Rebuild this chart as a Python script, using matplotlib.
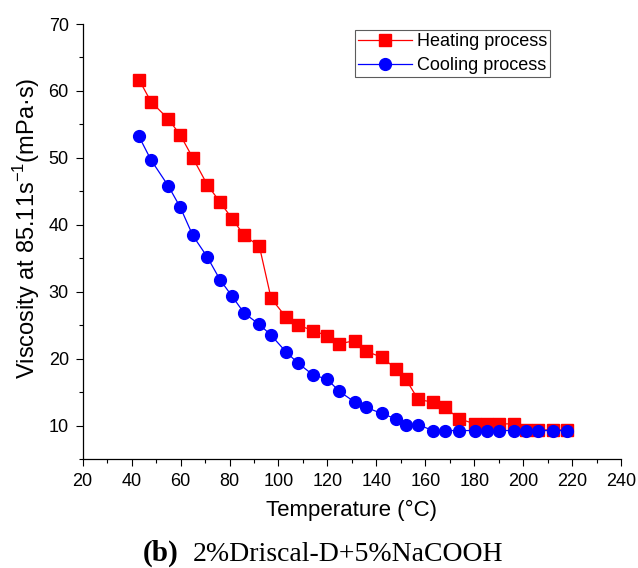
import numpy as np
import matplotlib.pyplot as plt
from matplotlib.ticker import MultipleLocator

plt.rcParams['font.family'] = ['Liberation Sans', 'DejaVu Sans']

temp = [43.0, 47.9, 55.0, 59.9, 65.0, 70.9, 76.1, 81.1, 86.0, 92.2, 97.0,
        103.1, 108.1, 114.0, 120.0, 124.9, 131.2, 135.9, 142.2, 148.0, 152.1,
        157.1, 163.0, 168.1, 173.9, 180.3, 185.1, 190.1, 196.1, 201.2, 205.9,
        212.1, 217.8]
heating = [61.7, 58.4, 55.8, 53.4, 50.0, 46.0, 43.4, 40.9, 38.4, 36.8, 29.0,
           26.2, 25.0, 24.2, 23.4, 22.2, 22.7, 21.1, 20.2, 18.5, 16.9,
           13.9, 13.5, 12.7, 11.0, 10.25, 10.25, 10.25, 10.25, 9.35, 9.35,
           9.35, 9.35]
cooling = [53.2, 49.7, 45.8, 42.6, 38.4, 35.2, 31.8, 29.3, 26.8, 25.1, 23.5,
           21.0, 19.3, 17.6, 16.9, 15.1, 13.5, 12.7, 11.8, 11.0, 10.15,
           10.15, 9.25, 9.25, 9.25, 9.25, 9.25, 9.25, 9.25, 9.25, 9.25,
           9.25, 9.25]

fig = plt.figure(figsize=(6.38, 5.68), dpi=100)
ax = fig.add_axes([0.1296, 0.1919, 0.8438, 0.7658])

ax.plot(temp, heating, color='#ff0000', marker='s', markersize=8, lw=0.9,
        label='Heating process')
ax.plot(temp, cooling, color='#0000ff', marker='o', markersize=8.5, lw=0.9,
        label='Cooling process')

ax.set_xlim(20, 240)
ax.set_ylim(5, 70)
ax.xaxis.set_major_locator(MultipleLocator(20))
ax.xaxis.set_minor_locator(MultipleLocator(10))
ax.yaxis.set_major_locator(MultipleLocator(10))
ax.yaxis.set_minor_locator(MultipleLocator(5))
ax.set_yticks(np.arange(10, 71, 10))
ax.tick_params(which='major', direction='out', length=5, width=0.8,
               labelsize=13, pad=5)
ax.tick_params(which='minor', direction='out', length=3, width=0.8)
ax.spines['top'].set_visible(False)
ax.spines['right'].set_visible(False)
for s in ['left', 'bottom']:
    ax.spines[s].set_linewidth(0.9)

ax.set_xlabel('Temperature (\u00b0C)', fontsize=16, labelpad=7)
ax.set_ylabel('Viscosity at 85.11s$^{\\mathregular{-1}}$(mPa\u00b7s)',
              fontsize=17, labelpad=5, y=0.53)

leg = ax.legend(loc='upper left', bbox_to_anchor=(0.506, 0.986), borderaxespad=0,
                fontsize=13, handlelength=3, frameon=True, fancybox=False,
                edgecolor='#333333', borderpad=0.15, labelspacing=0.4,
                handletextpad=0.3)
leg.get_frame().set_linewidth(0.8)

fig.text(143 / 638, 0.013, '(b)', fontsize=21, family='Liberation Serif',
         weight='bold', ha='left', va='baseline')
fig.text(193 / 638, 0.013, '2%Driscal-D+5%NaCOOH', fontsize=20,
         family='Liberation Serif', ha='left', va='baseline')

fig.savefig('out.png', dpi=100)
